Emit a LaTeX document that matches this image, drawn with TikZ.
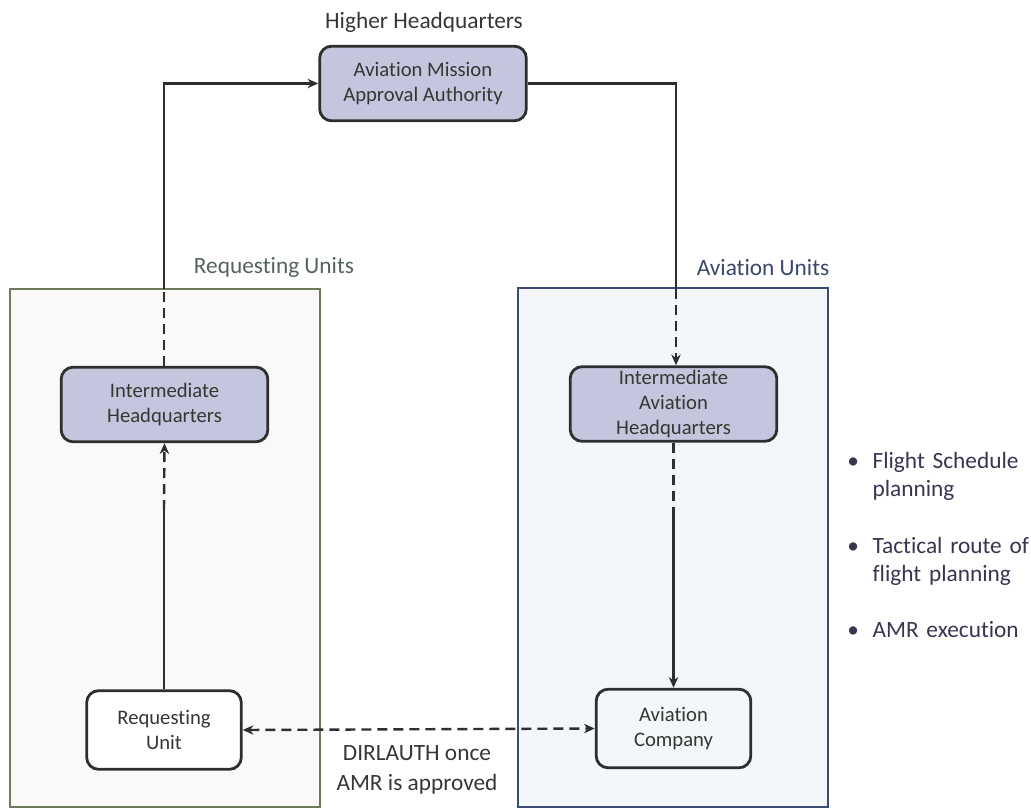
\documentclass[tikz,border=0pt]{standalone}
\usepackage{fontspec}
\setmainfont{Carlito}[Ligatures={NoCommon}]
\usetikzlibrary{arrows.meta,positioning}

\definecolor{nodefill}{HTML}{C4C6DD}
\definecolor{edgeclr}{HTML}{2E2E2E}
\definecolor{txtdark}{HTML}{363632}
\definecolor{reqgreen}{HTML}{6E7A5E}
\definecolor{reqtext}{HTML}{55645A}
\definecolor{reqfill}{HTML}{F9FAF7}
\definecolor{avblue}{HTML}{3C4A78}
\definecolor{avtext}{HTML}{3A466A}
\definecolor{avfill}{HTML}{F3F7FA}
\definecolor{bullettext}{HTML}{363652}

\tikzset{
  hqbox/.style={draw=edgeclr, line width=2.1pt, fill=nodefill, rounded corners=9pt,
    align=center, text=txtdark, font=\fontsize{15.5}{18.5}\selectfont,
    minimum width=155pt, minimum height=56pt, inner sep=2pt},
  unitbox/.style={draw=edgeclr, line width=2.1pt, rounded corners=9pt,
    align=center, text=txtdark, font=\fontsize{15.5}{18.5}\selectfont,
    minimum width=116pt, minimum height=59pt, inner sep=2pt},
  heading/.style={font=\fontsize{17.5}{21}\selectfont, inner sep=0pt},
  link/.style={draw=edgeclr, line width=1.8pt},
  dashlink/.style={link, dash pattern=on 7.5pt off 4.5pt},
  tip/.style={-{Stealth[length=8pt,width=7pt,inset=2.5pt]}},
  bothtips/.style={{Stealth[length=8pt,width=7pt,inset=2.5pt]}-{Stealth[length=8pt,width=7pt,inset=2.5pt]}},
}

\begin{document}
\begin{tikzpicture}[x=0.75pt, y=-0.75pt]
  \useasboundingbox (0,0) rectangle (1031,810);

  % unit groups
  \draw[draw=reqgreen, line width=1.2pt, fill=reqfill] (10,289) rectangle (320,807);
  \draw[draw=avblue, line width=1.2pt, fill=avfill] (518,288) rectangle (828,807);

  % headings
  \node[heading, text=txtdark] (hhq) at (424,22) {Higher Headquarters};
  \node[heading, text=reqtext] (rqu) at (274,267) {Requesting Units};
  \node[heading, text=avtext] (avu) at (763,268) {Aviation Units};

  % nodes
  \node[hqbox] (amaa) at (423,83.5) {Aviation Mission\\Approval Authority};
  \node[hqbox] (ihq) at (164.5,404.5) {Intermediate\\Headquarters};
  \node[hqbox] (iahq) at (673.5,404) {Intermediate\\Aviation\\Headquarters};
  \node[unitbox, fill=white] (ru) at (164,730) {Requesting\\Unit};
  \node[unitbox, fill=avfill] (ac) at (673.5,728.5) {Aviation\\Company};

  % bend points and dash transitions
  \coordinate (lcorner) at (164,83.5);
  \coordinate (ltop) at (164,289);
  \coordinate (lmid) at (164,510);
  \coordinate (rcorner) at (676,83.5);
  \coordinate (rtop) at (676,289);
  \coordinate (rmid) at (673.5,510);

  % request path up the left side
  \draw[link] (ru.north) -- (lmid);
  \draw[dashlink, tip] (lmid) -- (ihq.south);
  \draw[dashlink] (ihq.north -| ltop) -- (ltop);
  \draw[link, tip] (ltop) -- (lcorner) -- (amaa.west);

  % tasking path down the right side
  \draw[link] (amaa.east) -- (rcorner) -- (rtop);
  \draw[dashlink, tip] (rtop) -- (iahq.north -| rtop);
  \draw[dashlink] (iahq.south) -- (rmid);
  \draw[link, tip] (rmid) -- (ac.north);

  % direct liaison
  \draw[dashlink, bothtips] (ru.east) -- (ac.west);
  \node[font=\fontsize{17.5}{22}\selectfont, text=txtdark, align=center] (dir) at (417,770)
    {DIRLAUTH once\\AMR is approved};

  % aviation unit tasks
  \node[anchor=north west, text=bullettext, font=\fontsize{17.5}{21}\selectfont,
        align=left, inner sep=0pt, text width=160pt] (tasks) at (847,452) {%
    \makebox[19pt][l]{\textbullet}Flight Schedule\\
    \hspace*{19pt}planning\\[21.5pt]
    \makebox[19pt][l]{\textbullet}Tactical route of\\
    \hspace*{19pt}flight planning\\[21.5pt]
    \makebox[19pt][l]{\textbullet}AMR execution};
\end{tikzpicture}
\end{document}
